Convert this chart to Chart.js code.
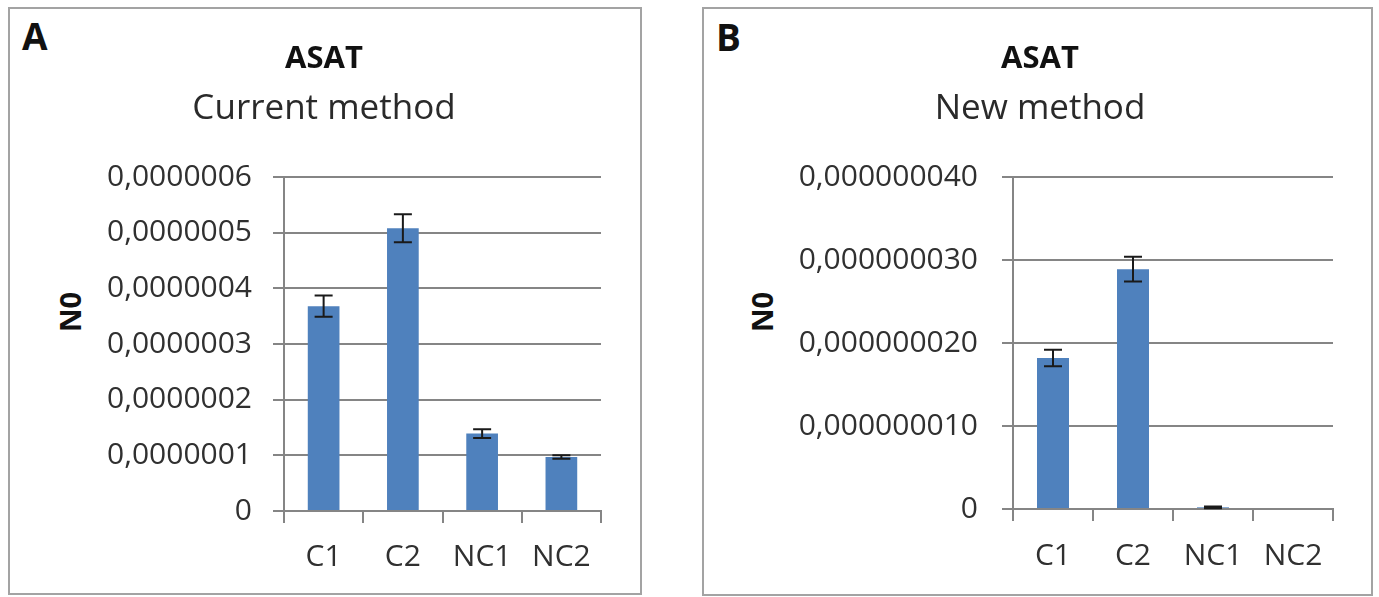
<!DOCTYPE html>
<html>
<head>
<meta charset="utf-8">
<script src="https://cdn.jsdelivr.net/npm/chart.js@4.4.1/dist/chart.umd.min.js"></script>
<style>
    body { margin: 0; width: 1379px; height: 597px; background: #fff; position: relative; overflow: hidden; font-family: "Open Sans", sans-serif; }
    .panel { position: absolute; border: 2px solid #a3a3a3; box-sizing: border-box; }
    #panelA { left: 8px; top: 7px; width: 634px; height: 588px; }
    #panelB { left: 702px; top: 7px; width: 671px; height: 589px; }
    .letter { position: absolute; font-weight: bold; font-size: 37px; line-height: 1; color: #111; }
    .ylabel { position: absolute; font-weight: bold; font-size: 29px; line-height: 1; color: #111; transform: translate(-50%, -50%) rotate(-90deg); }
    canvas { position: absolute; }
</style>
</head>
<body>
<div class="panel" id="panelA"></div>
<div class="panel" id="panelB"></div>
<div class="letter" style="left:22px; top:17px;">A</div>
<div class="letter" style="left:716px; top:18px;">B</div>
<div class="ylabel" style="left:69px; top:312px;">N0</div>
<div class="ylabel" style="left:761px; top:312px;">N0</div>
<canvas id="chartA" width="630" height="583" style="left:10px; top:10px;"></canvas>
<canvas id="chartB" width="667" height="584" style="left:704px; top:10px;"></canvas>

<script>
// data
const categories = ['C1', 'C2', 'NC1', 'NC2'];

const currentValues = [3.68e-7, 5.08e-7, 1.39e-7, 0.97e-7];
const currentErrors = [0.19e-7, 0.25e-7, 0.08e-7, 0.03e-7];
const currentTicks = [0, 1e-7, 2e-7, 3e-7, 4e-7, 5e-7, 6e-7];
const currentTickLabels = ['0', '0,0000001', '0,0000002', '0,0000003', '0,0000004', '0,0000005', '0,0000006'];

const newValues = [1.82e-8, 2.89e-8, 0.02e-8, 0];
const newErrors = [0.10e-8, 0.15e-8, 0.01e-8, 0];
const newTicks = [0, 1e-8, 2e-8, 3e-8, 4e-8];
const newTickLabels = ['0', '0,000000010', '0,000000020', '0,000000030', '0,000000040'];

const barColor = '#4f81bd';
const gridColor = '#858585';
const textColor = '#303030';

const errorBars = {
    id: 'errorBars',
    afterDatasetsDraw(chart) {
        const ctx = chart.ctx;
        const dataset = chart.data.datasets[0];
        const meta = chart.getDatasetMeta(0);
        const y = chart.scales.y;
        ctx.save();
        ctx.strokeStyle = '#1a1a1a';
        ctx.lineWidth = 2;
        meta.data.forEach(function (bar, i) {
            const err = dataset.errors[i];
            if (!err) return;
            const hi = y.getPixelForValue(dataset.data[i] + err);
            const lo = y.getPixelForValue(dataset.data[i] - err);
            ctx.beginPath();
            ctx.moveTo(bar.x, hi);
            ctx.lineTo(bar.x, lo);
            ctx.moveTo(bar.x - 9, hi);
            ctx.lineTo(bar.x + 9, hi);
            ctx.moveTo(bar.x - 9, lo);
            ctx.lineTo(bar.x + 9, lo);
            ctx.stroke();
        });
        ctx.restore();
    }
};

function makeChart(id, cfg) {
    const ctx = document.getElementById(id).getContext('2d');
    return new Chart(ctx, {
        type: 'bar',
        data: {
            labels: categories,
            datasets: [{
                data: cfg.values,
                errors: cfg.errors,
                backgroundColor: barColor,
                barPercentage: 0.4,
                categoryPercentage: 1.0
            }]
        },
        options: {
            responsive: false,
            animation: false,
            layout: { padding: { left: cfg.padLeft, right: cfg.padRight, top: 0, bottom: 0 } },
            plugins: {
                legend: { display: false },
                tooltip: { enabled: false },
                title: {
                    display: true,
                    text: 'ASAT',
                    color: '#111',
                    font: { family: 'Open Sans', size: 31, weight: 'bold' },
                    padding: { top: 30.4, bottom: 10.4 }
                },
                subtitle: {
                    display: true,
                    text: cfg.subtitle,
                    color: '#2a2a2a',
                    font: { family: 'Open Sans', size: 35, weight: 'normal' },
                    padding: { top: 0, bottom: 47 }
                }
            },
            scales: {
                x: {
                    grid: { display: true, drawOnChartArea: false, drawTicks: true, tickLength: 12, color: gridColor, lineWidth: 2 },
                    border: { display: true, color: gridColor, width: 2 },
                    ticks: { color: textColor, padding: cfg.xPad, font: { family: 'Open Sans', size: 30 } },
                    afterFit: function (scale) { scale.height = cfg.xHeight; }
                },
                y: {
                    min: 0,
                    max: cfg.ticks[cfg.ticks.length - 1],
                    grid: { color: gridColor, lineWidth: 2, tickLength: 11, drawTicks: true },
                    border: { display: true, color: gridColor, width: 2 },
                    ticks: {
                        color: textColor,
                        padding: cfg.yPad,
                        font: { family: 'Open Sans', size: 30 },
                        callback: function (v, i) { return cfg.tickLabels[i]; }
                    },
                    afterBuildTicks: function (scale) {
                        scale.ticks = cfg.ticks.map(function (v) { return { value: v }; });
                    },
                    afterFit: function (scale) { scale.width = cfg.yWidth; }
                }
            }
        },
        plugins: [errorBars]
    });
}

makeChart('chartA', {
    values: currentValues, errors: currentErrors,
    ticks: currentTicks, tickLabels: currentTickLabels,
    subtitle: 'Current method',
    padLeft: 37, padRight: 39, yWidth: 237, xHeight: 82, xPad: 16, yPad: 21
});

makeChart('chartB', {
    values: newValues, errors: newErrors,
    ticks: newTicks, tickLabels: newTickLabels,
    subtitle: 'New method',
    padLeft: 43, padRight: 38, yWidth: 266, xHeight: 85, xPad: 17, yPad: 24
});
</script>
</body>
</html>
